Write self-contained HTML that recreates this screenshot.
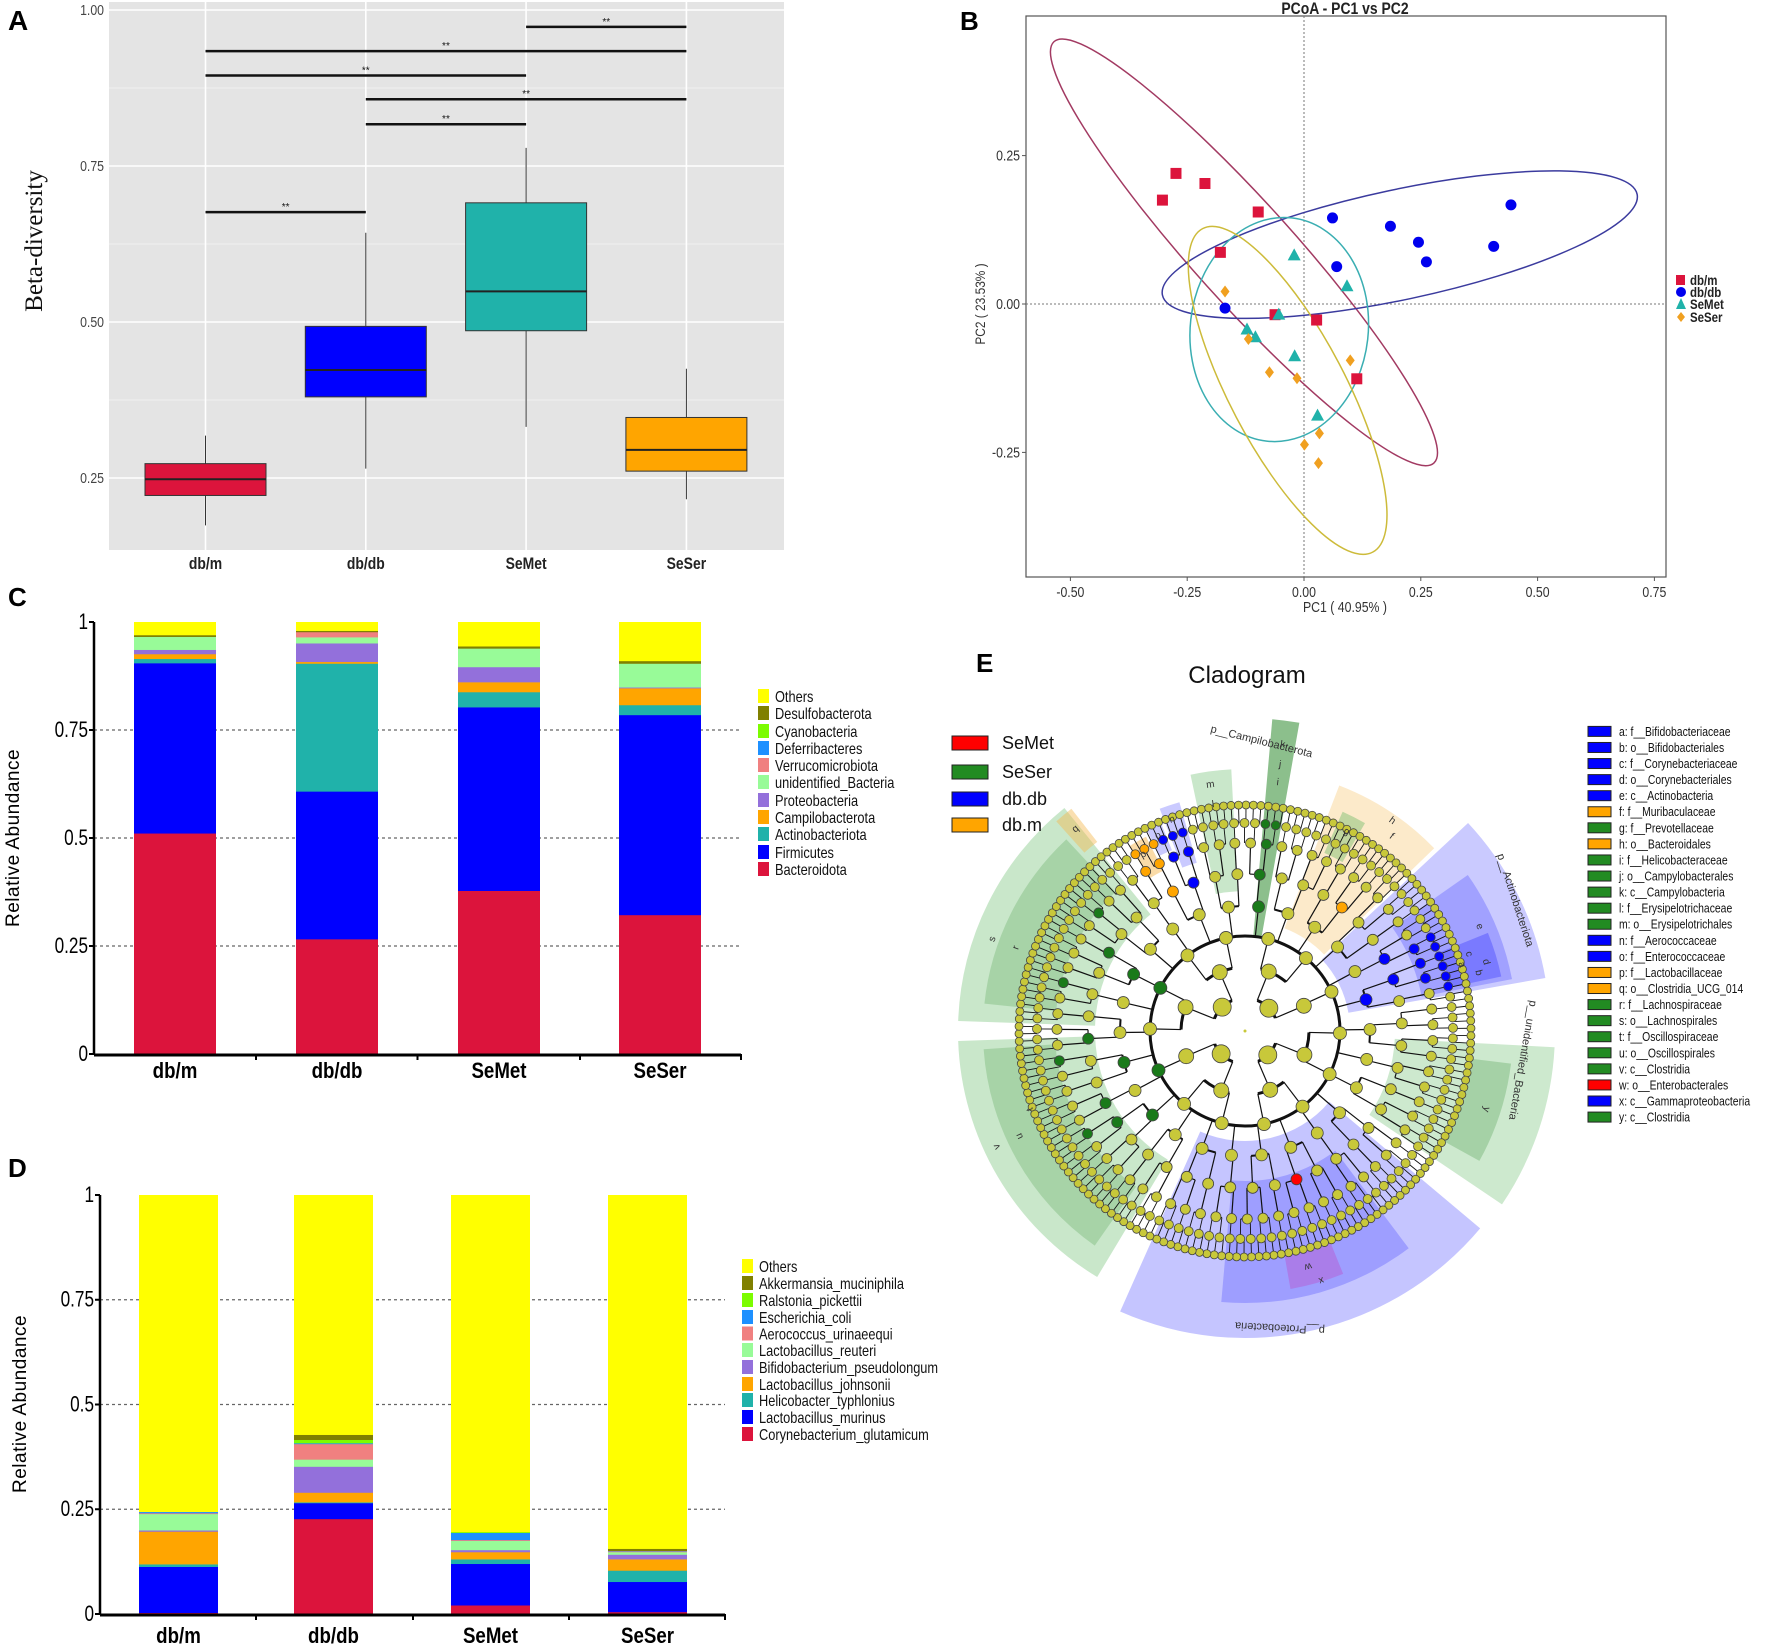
<!DOCTYPE html>
<html><head><meta charset="utf-8">
<style>
html,body{margin:0;padding:0;background:#fff;}
svg{display:block;font-family:"Liberation Sans",sans-serif;}
.n{font-family:"Liberation Sans Narrow","Liberation Sans",sans-serif;}
</style></head>
<body>
<svg id="fig" width="1772" height="1649" viewBox="0 0 1772 1649" xmlns="http://www.w3.org/2000/svg">
<g id="pA"></g>
<g id="pB"></g>
<g id="pC"></g>
<g id="pD"></g>
<g id="pE"></g>
</svg>
<script>
// ---------- DATA ----------
const groups = ["db/m","db/db","SeMet","SeSer"];
// Panel A box stats
const boxLow = [0.174,0.265,0.332,0.216];
const boxQ1 = [0.222,0.380,0.486,0.261];
const boxMed = [0.248,0.423,0.549,0.295];
const boxQ3 = [0.273,0.493,0.691,0.347];
const boxHigh = [0.318,0.643,0.779,0.425];
const boxColors = ["#dc143c","#0000ff","#20b2aa","#ffa500"];
const aTicks = [0.25,0.50,0.75,1.00];
const aTickLabels = ["0.25","0.50","0.75","1.00"];
const sigFrom = [2,0,0,1,1,0];
const sigTo = [3,3,2,3,2,1];
const sigY = [0.973,0.934,0.895,0.857,0.817,0.676];
// Panel B PCoA
const pcGroups = ["db/m","db/db","SeMet","SeSer"];
const pcX_dbm = [-0.303,-0.274,-0.212,-0.098,-0.179,-0.062,0.027,0.113];
const pcY_dbm = [0.175,0.220,0.203,0.155,0.087,-0.018,-0.027,-0.126];
const pcX_dbdb = [0.061,0.185,0.245,0.262,0.406,0.443,0.070,-0.169];
const pcY_dbdb = [0.145,0.131,0.104,0.071,0.097,0.167,0.063,-0.007];
const pcX_semet = [-0.021,0.092,-0.054,-0.122,-0.104,-0.020,0.029];
const pcY_semet = [0.082,0.030,-0.018,-0.043,-0.056,-0.088,-0.188];
const pcX_seser = [-0.169,-0.119,-0.074,-0.015,0.099,0.033,0.001,0.031];
const pcY_seser = [0.021,-0.059,-0.115,-0.125,-0.095,-0.218,-0.237,-0.268];
const ellV1x = [-0.535,-0.303,-0.026,-0.217];
const ellV1y = [0.442,0.015,0.145,0.127];
const ellV2x = [0.278,0.713,-0.080,0.147];
const ellV2y = [-0.268,0.185,-0.231,-0.418];
const bXTicks = [-0.50,-0.25,0.00,0.25,0.50,0.75];
const bXLabels = ["-0.50","-0.25","0.00","0.25","0.50","0.75"];
const bYTicks = [0.25,0.00,-0.25];
const bYLabels = ["0.25","0.00","-0.25"];
// Panel C phyla (bottom -> top)
const phyla = ["Bacteroidota","Firmicutes","Actinobacteriota","Campilobacterota","Proteobacteria","unidentified_Bacteria","Verrucomicrobiota","Deferribacteres","Cyanobacteria","Desulfobacterota","Others"];
const phylaColors = ["#dc143c","#0000ff","#20b2aa","#ffa500","#9370db","#98fb98","#f08080","#1e90ff","#7cfc00","#808000","#ffff00"];
const c_dbm = [0.511,0.394,0.010,0.011,0.010,0.030,0.000,0.000,0.000,0.004,0.030];
const c_dbdb = [0.266,0.342,0.296,0.004,0.043,0.014,0.012,0.000,0.000,0.003,0.020];
const c_semet = [0.378,0.425,0.035,0.023,0.035,0.043,0.000,0.000,0.000,0.005,0.056];
const c_seser = [0.322,0.463,0.023,0.039,0.002,0.055,0.000,0.000,0.000,0.006,0.090];
// Panel D species (bottom -> top)
const species = ["Corynebacterium_glutamicum","Lactobacillus_murinus","Helicobacter_typhlonius","Lactobacillus_johnsonii","Bifidobacterium_pseudolongum","Lactobacillus_reuteri","Aerococcus_urinaeequi","Escherichia_coli","Ralstonia_pickettii","Akkermansia_muciniphila","Others"];
const d_dbm = [0.003,0.110,0.006,0.078,0.003,0.039,0.002,0.003,0.000,0.000,0.756];
const d_dbdb = [0.227,0.038,0.002,0.023,0.062,0.017,0.037,0.002,0.008,0.012,0.572];
const d_semet = [0.021,0.099,0.011,0.017,0.005,0.022,0.002,0.017,0.002,0.000,0.804];
const d_seser = [0.005,0.072,0.027,0.027,0.011,0.006,0.002,0.001,0.000,0.005,0.844];
const barTicks = [0,0.25,0.5,0.75,1];
const barTickLabels = ["0","0.25","0.5","0.75","1"];
// Panel E legend
const cladeGroups = ["SeMet","SeSer","db.db","db.m"];
const cladeGroupColors = ["#ff0000","#228b22","#0000ff","#ffa500"];
const cladeTaxa = ["a: f__Bifidobacteriaceae","b: o__Bifidobacteriales","c: f__Corynebacteriaceae","d: o__Corynebacteriales","e: c__Actinobacteria","f: f__Muribaculaceae","g: f__Prevotellaceae","h: o__Bacteroidales","i: f__Helicobacteraceae","j: o__Campylobacterales","k: c__Campylobacteria","l: f__Erysipelotrichaceae","m: o__Erysipelotrichales","n: f__Aerococcaceae","o: f__Enterococcaceae","p: f__Lactobacillaceae","q: o__Clostridia_UCG_014","r: f__Lachnospiraceae","s: o__Lachnospirales","t: f__Oscillospiraceae","u: o__Oscillospirales","v: c__Clostridia","w: o__Enterobacterales","x: c__Gammaproteobacteria","y: c__Clostridia"];
const cladeTaxaGroup = [2,2,2,2,2,3,1,3,1,1,1,1,1,2,2,3,3,1,1,1,1,1,0,2,1];

// ---------- helpers ----------
const NS="http://www.w3.org/2000/svg";
function mk(parent,tag,attrs,text){const e=document.createElementNS(NS,tag);for(const k in attrs)e.setAttribute(k,attrs[k]);if(text!==undefined)e.textContent=text;parent.appendChild(e);return e;}
// narrow text: horizontally compressed
function ntext(parent,x,y,attrs,text,sx){
 sx=sx||0.82;
 const a=Object.assign({},attrs,{x:x/sx,y:y,transform:`scale(${sx} 1)`});
 return mk(parent,'text',a,text);
}

// ---------- PANEL A ----------
(function(){
const g=document.getElementById('pA');
const xA=i=>205.5+i*160.3;
const yA=v=>10+(1-v)*624;
const L=109,R=784,T=2,B=550;
let e=mk(g,'rect',{x:L,y:T,width:R-L,height:B-T,fill:'#e4e4e4'});

[0.375,0.625,0.875].forEach(v=>mk(g,'line',{x1:L,x2:R,y1:yA(v),y2:yA(v),stroke:'#f0f0f0','stroke-width':1}));
aTicks.forEach((v,i)=>{
 mk(g,'line',{x1:L,x2:R,y1:yA(v),y2:yA(v),stroke:'#fff','stroke-width':1.6});
 const t=ntext(g,104,yA(v)+5,{'text-anchor':'end','font-size':15,fill:'#444'},aTickLabels[i]);
 
});
groups.forEach((gname,i)=>{
 mk(g,'line',{x1:xA(i),x2:xA(i),y1:T,y2:B,stroke:'#fff','stroke-width':1.6});
 const bw=121,x0=xA(i)-bw/2;
 const w=mk(g,'line',{x1:xA(i),x2:xA(i),y1:yA(boxHigh[i]),y2:yA(boxLow[i]),stroke:'#333','stroke-width':1});
 
 const b=mk(g,'rect',{x:x0,y:yA(boxQ3[i]),width:bw,height:yA(boxQ1[i])-yA(boxQ3[i]),fill:boxColors[i],stroke:'#333','stroke-width':1});
 
 mk(g,'line',{x1:x0,x2:x0+bw,y1:yA(boxMed[i]),y2:yA(boxMed[i]),stroke:'#222','stroke-width':2});
 const t=ntext(g,xA(i),569,{'text-anchor':'middle','font-size':17,'font-weight':'bold',fill:'#222'},gname);
 
});
sigY.forEach((v,k)=>{
 const l=mk(g,'line',{x1:xA(sigFrom[k]),x2:xA(sigTo[k]),y1:yA(v),y2:yA(v),stroke:'#111','stroke-width':2.5});
 
 mk(g,'text',{x:(xA(sigFrom[k])+xA(sigTo[k]))/2,y:yA(v)-2,'text-anchor':'middle','font-size':10,fill:'#111'},'**');
});
let yl=mk(g,'text',{x:0,y:0,transform:'translate(42,241) rotate(-90)','text-anchor':'middle','font-size':25,'font-family':'Liberation Serif, serif',fill:'#111'},'Beta-diversity');

let pl=mk(g,'text',{x:8,y:30,'font-size':28,'font-weight':'bold',fill:'#000'},'A');

})();

// ---------- PANEL B ----------
(function(){
const g=document.getElementById('pB');
const xB=v=>1304+v*467.2, yB=v=>304-v*593.6;
const L=1026,R=1666,T=16,B=577;
let f=mk(g,'rect',{x:L,y:T,width:R-L,height:B-T,fill:'#fff',stroke:'#555','stroke-width':1.2});

mk(g,'line',{x1:xB(0),x2:xB(0),y1:T,y2:B,stroke:'#777','stroke-width':1,'stroke-dasharray':'2,2'});
mk(g,'line',{x1:L,x2:R,y1:yB(0),y2:yB(0),stroke:'#777','stroke-width':1,'stroke-dasharray':'2,2'});
bXTicks.forEach((v,i)=>{mk(g,'line',{x1:xB(v),x2:xB(v),y1:B,y2:B+4,stroke:'#555'});
 const t=ntext(g,xB(v),597,{'text-anchor':'middle','font-size':15,fill:'#333'},bXLabels[i]);
 });
bYTicks.forEach((v,i)=>{mk(g,'line',{x1:L-4,x2:L,y1:yB(v),y2:yB(v),stroke:'#555'});
 const t=ntext(g,1020,yB(v)+5,{'text-anchor':'end','font-size':15,fill:'#333'},bYLabels[i]);
 });
const ellColors=['#a23a62','#3b3b9e','#3aaeb2','#cdbb3a'];
const ellMinor=[50,55,89,58];
for(let k=0;k<4;k++){
 const x1=xB(ellV1x[k]),y1=yB(ellV1y[k]),x2=xB(ellV2x[k]),y2=yB(ellV2y[k]);
 const cx=(x1+x2)/2,cy=(y1+y2)/2,rx=Math.hypot(x2-x1,y2-y1)/2,ang=Math.atan2(y2-y1,x2-x1)*180/Math.PI;
 const e=mk(g,'ellipse',{cx:cx,cy:cy,rx:rx,ry:ellMinor[k],transform:`rotate(${ang} ${cx} ${cy})`,fill:'none',stroke:ellColors[k],'stroke-width':1.5});
 
}
const col=['#dc143c','#0000ee','#20b2aa','#f0a020'];
pcX_dbm.forEach((x,i)=>{const p=mk(g,'rect',{x:xB(x)-5.5,y:yB(pcY_dbm[i])-5.5,width:11,height:11,fill:col[0]});
 });
pcX_dbdb.forEach((x,i)=>{const p=mk(g,'circle',{cx:xB(x),cy:yB(pcY_dbdb[i]),r:5.5,fill:col[1]});
 });
pcX_semet.forEach((x,i)=>{const X=xB(x),Y=yB(pcY_semet[i]);const p=mk(g,'polygon',{points:`${X},${Y-7} ${X-6.5},${Y+5} ${X+6.5},${Y+5}`,fill:col[2]});
 });
pcX_seser.forEach((x,i)=>{const X=xB(x),Y=yB(pcY_seser[i]);const p=mk(g,'polygon',{points:`${X},${Y-6} ${X+4.5},${Y} ${X},${Y+6} ${X-4.5},${Y}`,fill:col[3]});
 });
let t=ntext(g,1345,14,{'text-anchor':'middle','font-size':17,'font-weight':'bold',fill:'#222'},'PCoA - PC1 vs PC2');

t=ntext(g,1345,612,{'text-anchor':'middle','font-size':15,fill:'#333'},'PC1 ( 40.95% )');

t=mk(g,'text',{x:0,y:0,transform:'translate(985,304) rotate(-90) scale(0.85 1)','text-anchor':'middle','font-size':14,fill:'#333'},'PC2 ( 23.53% )');

const ly=[280,292,304,317];
pcGroups.forEach((n,k)=>{
 const lg=mk(g,'g',{});
 if(k==0)mk(lg,'rect',{x:1676,y:ly[k]-5,width:9,height:10,fill:col[0]});
 if(k==1)mk(lg,'circle',{cx:1681,cy:ly[k],r:5,fill:col[1]});
 if(k==2)mk(lg,'polygon',{points:`1681,${ly[k]-6} 1676,${ly[k]+5} 1686,${ly[k]+5}`,fill:col[2]});
 if(k==3)mk(lg,'polygon',{points:`1681,${ly[k]-5} 1685,${ly[k]} 1681,${ly[k]+5} 1677,${ly[k]}`,fill:col[3]});
 ntext(lg,1690,ly[k]+5,{'font-size':14,'font-weight':'bold',fill:'#222'},n);
});
t=mk(g,'text',{x:960,y:30,'font-size':26,'font-weight':'bold',fill:'#000'},'B');

})();

// ---------- stacked bars (C & D) ----------
function stacked(gid,opts){
 const g=document.getElementById(gid);
 const y=v=>opts.y0-v*opts.h;
 barTicks.forEach((v,i)=>{
  if(v>0&&v<1)mk(g,'line',{x1:opts.ax,x2:opts.ar,y1:y(v),y2:y(v),stroke:'#666','stroke-width':1.3,'stroke-dasharray':'3,3'});
  mk(g,'line',{x1:opts.ax-5,x2:opts.ax,y1:y(v),y2:y(v),stroke:'#000','stroke-width':2});
  const t=ntext(g,opts.ax-6,y(v)+7,{'text-anchor':'end','font-size':22,fill:'#000'},barTickLabels[i],0.78);
  
 });
 opts.series.forEach((vals,i)=>{
  let acc=0;
  vals.forEach((v,k)=>{
   if(v<=0)return;
   const r=mk(g,'rect',{x:opts.bx[i],y:y(acc+v),width:opts.bw,height:v*opts.h+0.3,fill:opts.colors[k]});
   
   acc+=v;
  });
  if(acc<1&&opts.fillTop){const r=mk(g,'rect',{x:opts.bx[i],y:y(1),width:opts.bw,height:(1-acc)*opts.h,fill:opts.colors[opts.colors.length-1]});
   }
  const t=ntext(g,opts.bx[i]+opts.bw/2,opts.labY,{'text-anchor':'middle','font-size':22,'font-weight':'bold',fill:'#000'},groups[i],0.85);
  
 });
 mk(g,'line',{x1:opts.ax,x2:opts.ax,y1:y(1),y2:opts.y0,stroke:'#000','stroke-width':2.5});
 mk(g,'line',{x1:opts.ax,x2:opts.ar,y1:opts.y0+1,y2:opts.y0+1,stroke:'#000','stroke-width':3});
 opts.ticks.forEach(x=>mk(g,'line',{x1:x,x2:x,y1:opts.y0,y2:opts.y0+6,stroke:'#000','stroke-width':2}));
 const yt=mk(g,'text',{x:0,y:0,transform:`translate(${opts.ylx},${opts.yly}) rotate(-90)`,'text-anchor':'middle','font-size':19,fill:'#000','letter-spacing':'0.5'},'Relative Abundance');
 
 for(let k=opts.names.length-1;k>=0;k--){
  const yy=opts.legY[opts.names.length-1-k];
  const lg=mk(g,'g',{});
  mk(lg,'rect',{x:opts.lx,y:yy-7,width:11,height:14,fill:opts.colors[k]});
  ntext(lg,opts.lx+17,yy+6,{'font-size':16,fill:'#111'},opts.names[k],0.8);
 }
 const pl=mk(g,'text',{x:8,y:opts.plY,'font-size':26,'font-weight':'bold',fill:'#000'},opts.label);
 
}
stacked('pC',{y0:1054,h:432,ax:94,ar:741,bx:[134,296,458,619],bw:82,ticks:[256,417.5,580,741],labY:1078,
 series:[c_dbm,c_dbdb,c_semet,c_seser],colors:phylaColors,names:phyla,fillTop:true,
 lx:758,legY:[696,713,731,748,765,782,800,817,834,852,869],ylx:19,yly:838,label:'C',plY:606});
stacked('pD',{y0:1614,h:419,ax:100,ar:725,bx:[139,294,451,608],bw:79,ticks:[256,413,569,725],labY:1643,
 series:[d_dbm,d_dbdb,d_semet,d_seser],colors:phylaColors,names:species,fillTop:true,
 lx:742,legY:[1266,1283,1300,1317,1333.5,1350,1367,1384,1400,1417,1434],ylx:26,yly:1404,label:'D',plY:1177});

// ---------- PANEL E cladogram ----------
(function(){
const g=document.getElementById('pE');
const cx=1245,cy=1031;
const pol=(r,a)=>{const t=(a-90)*Math.PI/180;return [cx+r*Math.cos(t),cy+r*Math.sin(t)];};
function wedge(a0,a1,r0,r1,color,op,name){
 const p1=pol(r1,a0),p2=pol(r1,a1),p3=pol(r0,a1),p4=pol(r0,a0),lg=(a1-a0)>180?1:0;
 const d=`M${p1[0]},${p1[1]} A${r1},${r1} 0 ${lg} 1 ${p2[0]},${p2[1]} L${p3[0]},${p3[1]} A${r0},${r0} 0 ${lg} 0 ${p4[0]},${p4[1]}Z`;
 const e=mk(g,'path',{d:d,fill:color,'fill-opacity':op});
 
}
const G='#4caf50',DB='#5050ff',OR='#f5b850';
wedge(211,268,150,287,G,0.3,'sector-clostridia');
wedge(272,321,150,287,G,0.3,'sector-clostridia-upper');
wedge(215,266,190,262,'#2e8b2e',0.22,'sector-oscillospirales');
wedge(276,317,190,262,'#2e8b2e',0.22,'sector-lachnospirales');
wedge(130,204,110,307,DB,0.33,'sector-proteobacteria');
wedge(143,185,150,272,'#3a3aff',0.28,'sector-gammaproteobacteria');
wedge(158,170,225,262,'#c040c0',0.35,'sector-enterobacterales');
wedge(93,124,150,310,G,0.28,'sector-unidentified-bacteria');
wedge(97,119,228,268,'#2e8b2e',0.25,'sector-y');
wedge(47,80,105,305,DB,0.3,'sector-actinobacteriota');
wedge(55,79,180,272,'#3a3aff',0.28,'sector-actinobacteria');
wedge(68,78,210,262,'#2020ff',0.3,'sector-bifido');
wedge(21,46,110,263,OR,0.3,'sector-bacteroidetes');
wedge(24,30,195,240,G,0.35,'sector-prevotellaceae');
wedge(5,10,95,313,'#2e8b2e',0.55,'sector-campilobacterota');
wedge(348,357,140,262,G,0.3,'sector-erysipelotrichales');
wedge(339,344,175,238,DB,0.3,'sector-aerococcaceae');
wedge(334,338,195,228,DB,0.3,'sector-enterococcaceae');
wedge(328,333,180,218,OR,0.5,'sector-lactobacillaceae');
wedge(318,322,240,282,OR,0.45,'sector-clostridia-ucg');
// tree
const radii=[0,33,64,95,125,157,188,208,226];
const counts=[1,4,8,14,26,44,75,125,190];
const nodeR=[2,9,7.5,6.5,6,5.5,5,4.5,4];
const levels=[];
for(let L=0;L<radii.length;L++){
 const n=counts[L],arr=[];
 for(let i=0;i<n;i++){
  let a=(i+0.5)*360/n + (L%2?1.3:-0.7);
  arr.push(a);
 }
 levels.push(arr);
}
const lines=mk(g,'g',{stroke:'#111',fill:'none'});

const parentOf=[];
for(let L=1;L<levels.length;L++){
 const par=levels[L-1],pm=[];
 levels[L].forEach(a=>{
  let best=0,bd=1e9;par.forEach((pa,j)=>{let d=Math.abs(((a-pa+540)%360)-180);if(d<bd){bd=d;best=j;}});
  pm.push(best);
 });
 parentOf.push(pm);
}
for(let L=1;L<levels.length;L++){
 const pm=parentOf[L-1],sw=L<=3?3:(L<=5?2:1.2);
 const grp={};
 levels[L].forEach((a,i)=>{(grp[pm[i]]=grp[pm[i]]||[]).push(a);
  const p=pol(radii[L-1],a),q=pol(radii[L],a);
  if(L>1)mk(lines,'line',{x1:p[0],y1:p[1],x2:q[0],y2:q[1],'stroke-width':L>=7?0.9:1.2});
 });
 if(L>1){for(const j in grp){
  const as=grp[j].concat([levels[L-1][j]]);let mn=Math.min(...as),mx=Math.max(...as);
  if(mx-mn>180)continue;
  const r=radii[L-1],p=pol(r,mn),q=pol(r,mx);
  mk(lines,'path',{d:`M${p[0]},${p[1]} A${r},${r} 0 0 1 ${q[0]},${q[1]}`,'stroke-width':sw});
 }}
}
mk(lines,'circle',{cx:cx,cy:cy,r:95,'stroke-width':3});
function nodeColor(L,a){
 if(L>=4&&L<=7&&a>=62&&a<=78)return '#0000ff';
 if(L>=3&&L<=7&&a>=5&&a<=10)return '#1a7a1a';
 if((L==5||L==6)&&a>=30&&a<=44&&L%2)return '#ffa500';
 if(L==3&&a>=150&&a<=160)return '#0000ff';
 if(L==4&&a>=160&&a<=170)return '#0000ff';
 if(L==5&&a>=160&&a<=166)return '#ff0000';
 if(L>=3&&L<=6&&a>=215&&a<=318&&(Math.round(a)%3==0))return '#1a7a1a';
 if(L>=5&&L<=7&&a>=335&&a<=345)return '#0000ff';
 if(L>=5&&L<=7&&a>=326&&a<=334)return '#ffa500';
 return '#c8c83a';
}
const nodes=mk(g,'g',{stroke:'#444','stroke-width':0.8});

for(let L=1;L<levels.length;L++){
 levels[L].forEach(a=>{const p=pol(radii[L],a);
  mk(nodes,'circle',{cx:p[0],cy:p[1],r:nodeR[L],fill:nodeColor(L,a)});
 });
}
mk(g,'circle',{cx:cx,cy:cy,r:1.5,fill:'#c8c83a'});
let t;
t=mk(g,'text',{x:1210,y:732,transform:'rotate(14 1210 732)','font-size':11,fill:'#333'},'p__Campilobacterota');

t=mk(g,'text',{x:1497,y:855,transform:'rotate(72 1497 855)','font-size':11,fill:'#333'},'p__Actinobacteriota');

t=mk(g,'text',{x:1530,y:1000,transform:'rotate(100 1530 1000)','font-size':11,fill:'#333'},'p__unidentified_Bacteria');

t=mk(g,'text',{x:1325,y:1327,transform:'rotate(183 1325 1327)','font-size':11,fill:'#333'},'p__Proteobacteria');

const letters=[['k',7.5,290],['j',7.5,270],['i',7.5,252],['m',352,250],['l',352,230],['n',341,225],['o',336,215],['p',330,205],['q',320,265],
 ['g',27,225],['h',35,258],['f',37,245],['e',66,258],['d',74,252],['b',76,242],['c',71,238],['a',73,228],['s',290,270],['r',290,245],
 ['v',245,275],['u',245,250],['t',250,230],['y',108,255],['x',163,262],['w',165,245]];
letters.forEach(l=>{const p=pol(l[2],l[1]);const tt=mk(g,'text',{x:p[0],y:p[1]+4,'text-anchor':'middle','font-size':10,fill:'#333',transform:`rotate(${l[1]} ${p[0]} ${p[1]})`},l[0]);
 });
t=mk(g,'text',{x:1247,y:683,'text-anchor':'middle','font-size':24,fill:'#111'},'Cladogram');

t=mk(g,'text',{x:976,y:672,'font-size':26,'font-weight':'bold',fill:'#000'},'E');

const gy=[743,772,799,825];
cladeGroups.forEach((n,k)=>{const lg=mk(g,'g',{});
 mk(lg,'rect',{x:952,y:gy[k]-7,width:36,height:14,fill:cladeGroupColors[k],stroke:'#222','stroke-width':1});
 mk(lg,'text',{x:1002,y:gy[k]+6,'font-size':18,fill:'#111'},n);});
cladeTaxa.forEach((n,k)=>{const yy=731.4+k*16.07;const lg=mk(g,'g',{});
 mk(lg,'rect',{x:1588,y:yy-5,width:23,height:10,fill:cladeGroupColors[cladeTaxaGroup[k]],stroke:'#222','stroke-width':1});
 ntext(lg,1619,yy+4.5,{'font-size':13,fill:'#111'},n,0.8);});
})();
</script>
</body></html>
